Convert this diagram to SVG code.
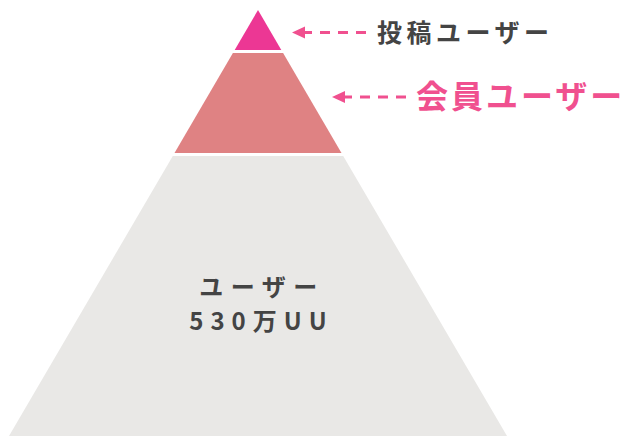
<svg xmlns="http://www.w3.org/2000/svg" width="630" height="436" viewBox="0 0 630 436">
  <defs>
    <style>
      .lbl { font-family: "Noto Sans CJK JP", "Noto Sans", sans-serif; font-weight: bold; }
      .dash { stroke: #F0508F; stroke-width: 3.2; stroke-dasharray: 10 8; fill: none; }
      .head { fill: #F0508F; }
    </style>
  </defs>
  <rect width="630" height="436" fill="#FFFFFF"/>
  <g id="tier-poster">
    <polygon points="258,10 281.3,50 234.7,50" fill="#EC3794"/>
  </g>
  <g id="tier-member">
    <polygon points="232.9,53 283.1,53 341.5,153 174.5,153" fill="#DF8283"/>
  </g>
  <g id="tier-user">
    <polygon points="172.8,156 343.2,156 507,436 9,436" fill="#E9E8E6"/>
    <text class="lbl" x="262" y="295.5" font-size="24" letter-spacing="7.5" text-anchor="middle" fill="#444444">ユーザー</text>
    <text class="lbl" x="261.5" y="329.5" font-size="24" letter-spacing="7" text-anchor="middle" fill="#444444">530万UU</text>
  </g>
  <g id="label-poster">
    <text class="lbl" x="377" y="42" font-size="25" letter-spacing="4.5" fill="#444444">投稿ユーザー</text>
  </g>
  <g id="label-member">
    <text class="lbl" x="416" y="108" font-size="32" letter-spacing="3" fill="#F0508F">会員ユーザー</text>
  </g>
  <g id="connectors">
    <path class="dash" d="M366,32.5 L304,32.5"/>
    <polygon class="head" points="292,32.5 305,26.5 305,38.5"/>
    <path class="dash" d="M406,97 L344,97"/>
    <polygon class="head" points="332,97 345,91 345,103"/>
  </g>
</svg>
